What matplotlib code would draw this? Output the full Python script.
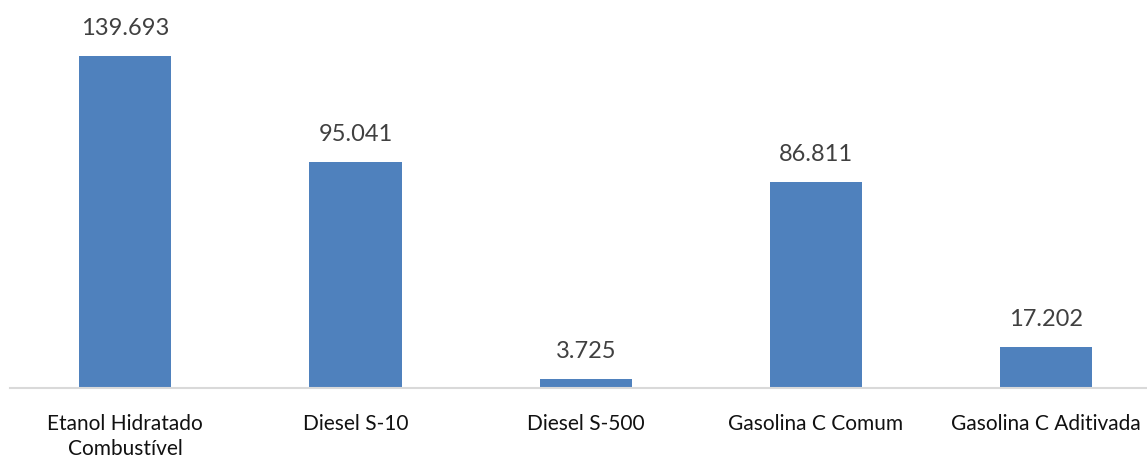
import matplotlib

matplotlib.use("Agg")

import matplotlib.pyplot as plt

categories = [
    "Etanol Hidratado\nCombustível",
    "Diesel S-10",
    "Diesel S-500",
    "Gasolina C Comum",
    "Gasolina C Aditivada",
]
values = [139.693, 95.041, 3.725, 86.811, 17.202]
value_labels = ["139.693", "95.041", "3.725", "86.811", "17.202"]

BAR_COLOR = "#4f81bd"

plt.rcParams["font.family"] = ["Lato", "DejaVu Sans"]

W, H = 1147, 459
fig = plt.figure(figsize=(W / 100, H / 100), dpi=100)
baseline = 388
ax = fig.add_axes([10 / W, (H - baseline) / H, (W - 10) / W, baseline / H])

x = range(len(categories))
bars = ax.bar(x, values, width=0.4, color=BAR_COLOR, zorder=2)

step = 230.3  # pixels per category
ax.set_xlim(-0.5, (W - 10) / step - 0.5)
ax.set_ylim(0, baseline / 2.377)

for bar, label in zip(bars, value_labels):
    ax.annotate(
        label,
        (bar.get_x() + bar.get_width() / 2, bar.get_height()),
        xytext=(0, 17),
        textcoords="offset pixels",
        ha="center",
        va="bottom",
        fontsize=17,
        color="#404040",
    )

ax.set_xticks(list(x))
ax.set_xticklabels(categories, fontsize=15, color="#111111", linespacing=1.3)
ax.tick_params(axis="x", length=0, pad=19)
ax.set_yticks([])
for side in ("top", "right", "left"):
    ax.spines[side].set_visible(False)
ax.spines["bottom"].set_color("#d9d9d9")
ax.spines["bottom"].set_linewidth(1.5)

fig.savefig("out.png", dpi=100)
